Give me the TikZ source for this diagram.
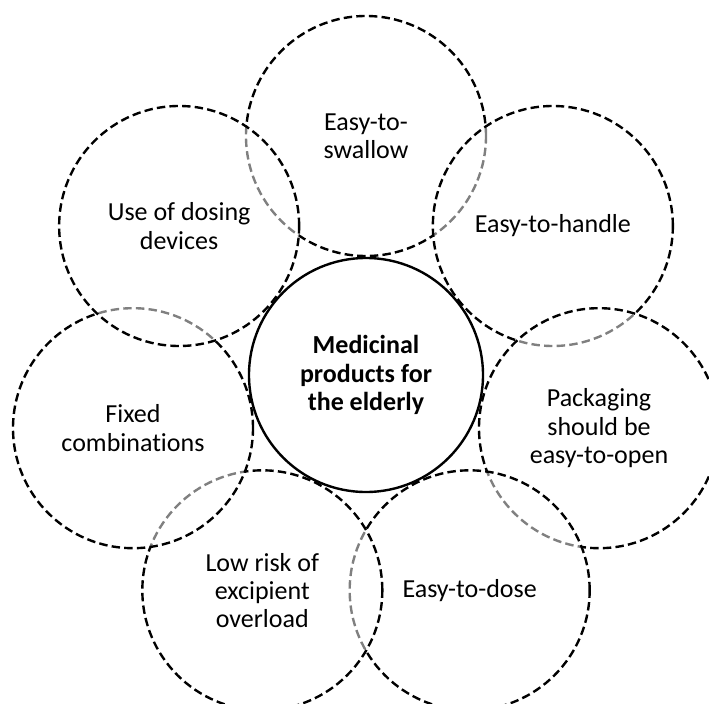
\documentclass[tikz,border=0pt]{standalone}
\usepackage{fontspec}
\setmainfont{Carlito}[Ligatures=NoCommon]
\newcommand{\need}[3]{\node[need] (#1) at (#2:5.975) {#3};}

\begin{document}
\begin{tikzpicture}[
	need/.style={circle, draw, dash pattern=on 6pt off 3pt, line width=1.7pt,
		fill=white, fill opacity=0.5, text opacity=1, minimum size=6cm, align=center,
		font=\fontsize{18.5}{20.1}\selectfont},
	core/.style={circle, draw, line width=1.7pt, fill=white, minimum size=5.85cm,
		align=center, font=\fontsize{18.5}{20.1}\selectfont\bfseries}]
	\useasboundingbox (-9.15,-8.2) rectangle (8.575,9.375);
	% drawn clockwise, each one over the one before
	\need{swallow}{90}{Easy-to-\\swallow}
	\need{handle}{38.57}{Easy-to-handle}
	\need{packaging}{-12.86}{Packaging\\should be\\easy-to-open}
	\need{dose}{-64.29}{Easy-to-dose}
	\need{overload}{-115.71}{Low risk of\\excipient\\overload}
	\need{fixed}{-167.14}{Fixed\\combinations}
	\need{devices}{141.43}{Use of dosing\\devices}
	\node[core] (centre) at (0,0) {Medicinal\\products for\\the elderly};
\end{tikzpicture}
\end{document}
